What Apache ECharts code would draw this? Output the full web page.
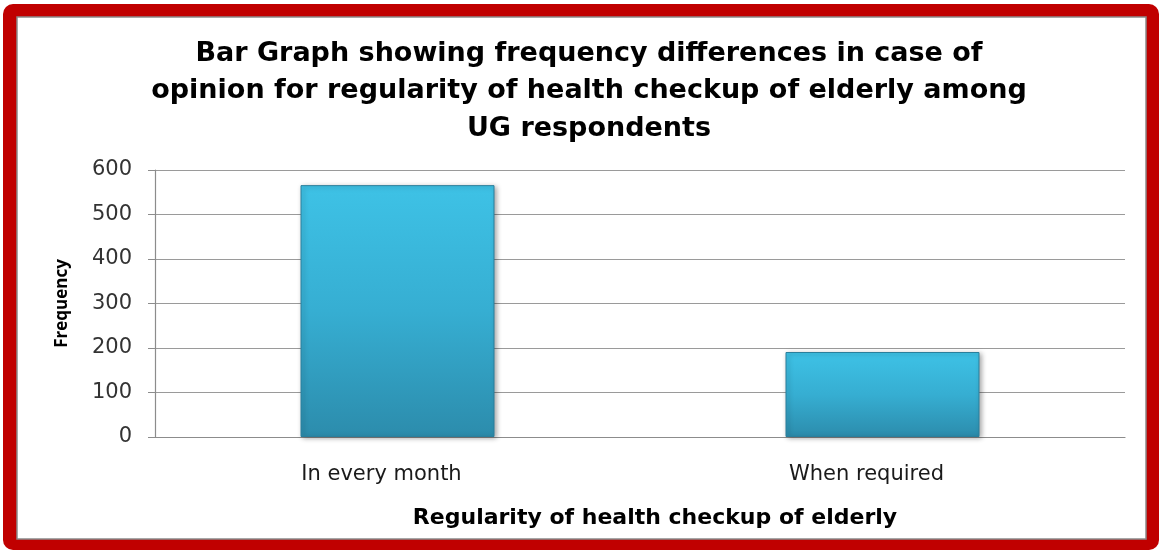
<!DOCTYPE html>
<html>
<head>
<meta charset="utf-8">
<script src="https://cdn.jsdelivr.net/npm/echarts@6/dist/echarts.min.js"></script>
<style>
  html, body { margin: 0; padding: 0; background: #ffffff; }
  #chart { width: 1159px; height: 550px; }
</style>
</head>
<body>
<div id="chart"></div>
<script>
// Opinion on how regularly the elderly should have a health checkup (UG respondents)
const categories = ['In every month', 'When required'];
const frequencies = [566, 191];
const yTicks = { min: 0, max: 600, interval: 100 };

const titleText = 'Bar Graph showing frequency differences in case of\nopinion for regularity of health checkup of elderly among\nUG respondents';

const chart = echarts.init(document.getElementById('chart'));

chart.setOption({
  backgroundColor: 'transparent',
  animation: false,
  graphic: [
    {
      type: 'rect', z: -10, silent: true,
      shape: { x: 3, y: 4, width: 1156, height: 546, r: 10 },
      style: { fill: '#C00000' }
    },
    {
      type: 'rect', z: -9, silent: true,
      shape: { x: 17, y: 17, width: 1129, height: 522 },
      style: { fill: '#ffffff', stroke: '#8a8a8a', lineWidth: 1.5 }
    }
  ],
  title: {
    text: titleText,
    left: 584,
    top: 30,
    textAlign: 'center',
    textStyle: {
      fontFamily: 'DejaVu Sans',
      fontWeight: 'bold',
      fontSize: 27,
      lineHeight: 37.5,
      color: '#000000'
    }
  },
  grid: { left: 155, right: 34, top: 170, bottom: 113, containLabel: false },
  xAxis: {
    type: 'category',
    data: categories,
    name: 'Regularity of health checkup of elderly',
    nameLocation: 'middle',
    nameGap: 70,
    nameTextStyle: {
      fontFamily: 'DejaVu Sans', fontWeight: 'bold', fontSize: 22, color: '#000000',
      padding: [0, 0, 0, 30]
    },
    axisLine: { lineStyle: { color: '#8c8c8c', width: 1.2 } },
    axisTick: { show: false },
    axisLabel: {
      margin: 27,
      fontFamily: 'DejaVu Sans', fontSize: 21, color: '#1a1a1a',
      padding: [0, 32, 0, 0]
    }
  },
  yAxis: {
    type: 'value',
    min: yTicks.min,
    max: yTicks.max,
    interval: yTicks.interval,
    name: 'Frequency',
    nameLocation: 'middle',
    nameGap: 84,
    nameTextStyle: {
      fontFamily: 'Open Sans', fontWeight: 'bold', fontSize: 17, color: '#000000'
    },
    axisLine: { show: true, lineStyle: { color: '#8c8c8c', width: 1.2 } },
    axisTick: { show: true, length: 7, lineStyle: { color: '#8c8c8c' } },
    axisLabel: {
      margin: 23,
      fontFamily: 'DejaVu Sans', fontSize: 21, color: '#333333'
    },
    splitLine: { lineStyle: { color: '#9a9a9a', width: 1 } }
  },
  series: [
    {
      type: 'bar',
      data: frequencies,
      barWidth: '40%',
      itemStyle: {
        color: new echarts.graphic.LinearGradient(0, 0, 0, 1, [
          { offset: 0, color: '#3ec2e6' },
          { offset: 0.5, color: '#36aed2' },
          { offset: 1, color: '#2c8cac' }
        ]),
        borderColor: '#2a7f9c',
        borderWidth: 1,
        shadowColor: 'rgba(0,0,0,0.35)',
        shadowBlur: 5,
        shadowOffsetX: 2,
        shadowOffsetY: 1
      }
    }
  ]
});
</script>
</body>
</html>
